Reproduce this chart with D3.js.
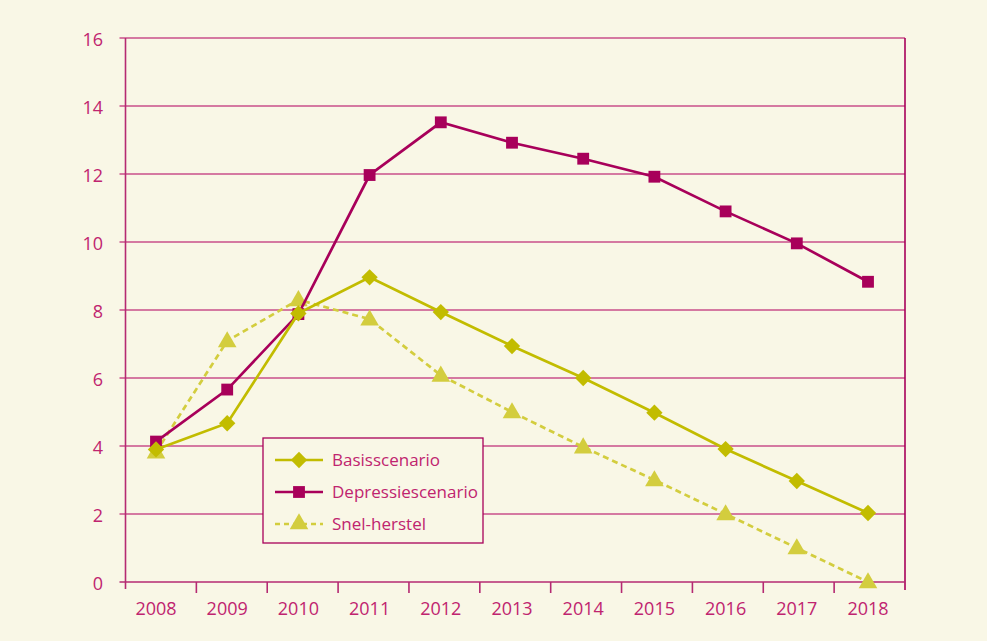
<!DOCTYPE html>
<html>
<head>
<meta charset="utf-8">
<script src="https://cdn.jsdelivr.net/npm/d3@7"></script>
<style>
  html, body { margin: 0; padding: 0; background: #f9f7e6; }
  svg { display: block; font-family: "Open Sans", "Noto Sans", sans-serif; }
</style>
</head>
<body>
<svg id="chart" width="987" height="641"></svg>
<script>
// scenario's 2008-2018
const years = ["2008","2009","2010","2011","2012","2013","2014","2015","2016","2017","2018"];
const basis     = [3.9, 4.67, 7.9, 8.96, 7.94, 6.94, 6.0, 4.98, 3.91, 2.97, 2.03];
const depressie = [4.13, 5.66, 7.88, 11.97, 13.52, 12.92, 12.45, 11.92, 10.9, 9.96, 8.83];
const snel      = [3.82, 7.09, 8.3, 7.73, 6.08, 5.0, 3.97, 3.0, 2.0, 1.0, 0.0];
const yTicks    = [0, 2, 4, 6, 8, 10, 12, 14, 16];
const seriesNames = ["Basisscenario", "Depressiescenario", "Snel-herstel"];

const axisCol = "#b52a72";
const gridCol = "#c94f8a";
const textCol = "#c0246f";
const magenta = "#a8005a";
const olive   = "#c2bc00";
const lightOl = "#d3cd3e";

const svg = d3.select("#chart");
const plotL = 125.5, plotR = 905, plotT = 38, plotB = 582;

const y = d3.scaleLinear().domain([0, 16]).range([plotB, plotT]);
const xBand = d3.scaleBand().domain(years).range([plotL, plotR]);
const x = d3.scalePoint().domain(years).range([156, 868]);

// rasterlijnen
svg.append("g").selectAll("line").data(yTicks.filter(d => d > 0)).enter().append("line")
  .attr("x1", plotL - 6).attr("x2", plotR)
  .attr("y1", d => y(d)).attr("y2", d => y(d))
  .attr("stroke", gridCol).attr("stroke-width", 1.7);

// assen
svg.append("line").attr("x1", plotL).attr("x2", plotL).attr("y1", plotT).attr("y2", plotB + 7)
  .attr("stroke", axisCol).attr("stroke-width", 1.6);
svg.append("line").attr("x1", plotR).attr("x2", plotR).attr("y1", plotT).attr("y2", plotB + 8)
  .attr("stroke", magenta).attr("stroke-width", 1.6);
svg.append("line").attr("x1", plotL - 6).attr("x2", plotR).attr("y1", plotB).attr("y2", plotB)
  .attr("stroke", axisCol).attr("stroke-width", 1.7);

svg.append("g").selectAll("text").data(yTicks).enter().append("text")
  .attr("x", 103).attr("y", d => y(d) + 2).attr("dy", "0.35em")
  .attr("text-anchor", "end").attr("fill", textCol).attr("font-size", 18)
  .text(d => d);

// x-as streepjes tussen de jaren
svg.append("g").selectAll("line").data(years.slice(1)).enter().append("line")
  .attr("x1", d => xBand(d)).attr("x2", d => xBand(d))
  .attr("y1", plotB).attr("y2", plotB + 11)
  .attr("stroke", axisCol).attr("stroke-width", 1.6);

svg.append("g").selectAll("text").data(years).enter().append("text")
  .attr("x", d => x(d)).attr("y", 615)
  .attr("text-anchor", "middle").attr("fill", textCol).attr("font-size", 18)
  .text(d => d);

const line = d3.line().x((d, i) => x(years[i])).y(d => y(d));

const sym = {
  diamond: d3.symbol().type(d3.symbolDiamond2).size(170),
  square:  d3.symbol().type(d3.symbolSquare).size(140),
  triangle: d3.symbol().type(d3.symbolTriangle).size(150)
};

function drawSeries(vals, col, dash, shape, dy) {
  svg.append("path").datum(vals).attr("d", line)
    .attr("fill", "none").attr("stroke", col).attr("stroke-width", 2.7)
    .attr("stroke-dasharray", dash);
  svg.append("g").selectAll("path").data(vals).enter().append("path")
    .attr("transform", (d, i) => `translate(${x(years[i])},${y(d) + dy})`)
    .attr("d", shape).attr("fill", col);
}

drawSeries(snel, lightOl, "6,4", sym.triangle, 1);
drawSeries(depressie, magenta, null, sym.square, 0);
drawSeries(basis, olive, null, sym.diamond, 0);

// legenda
const lg = svg.append("g").attr("transform", "translate(263,438)");
lg.append("rect").attr("width", 220).attr("height", 105)
  .attr("fill", "#f9f7e6").attr("stroke", magenta).attr("stroke-width", 1.3);

const legendItems = [
  { name: seriesNames[0], col: olive, dash: null, shape: sym.diamond },
  { name: seriesNames[1], col: magenta, dash: null, shape: sym.square },
  { name: seriesNames[2], col: lightOl, dash: "5,4", shape: sym.triangle }
];
legendItems.forEach((it, i) => {
  const ly = 22 + i * 32;
  lg.append("line").attr("x1", 12).attr("x2", 60).attr("y1", ly).attr("y2", ly)
    .attr("stroke", it.col).attr("stroke-width", 2.7).attr("stroke-dasharray", it.dash);
  lg.append("path").attr("transform", `translate(36,${ly})`).attr("d", it.shape).attr("fill", it.col);
  lg.append("text").attr("x", 69).attr("y", ly).attr("dy", "0.35em")
    .attr("fill", textCol).attr("font-size", 17).text(it.name);
});
</script>
</body>
</html>
